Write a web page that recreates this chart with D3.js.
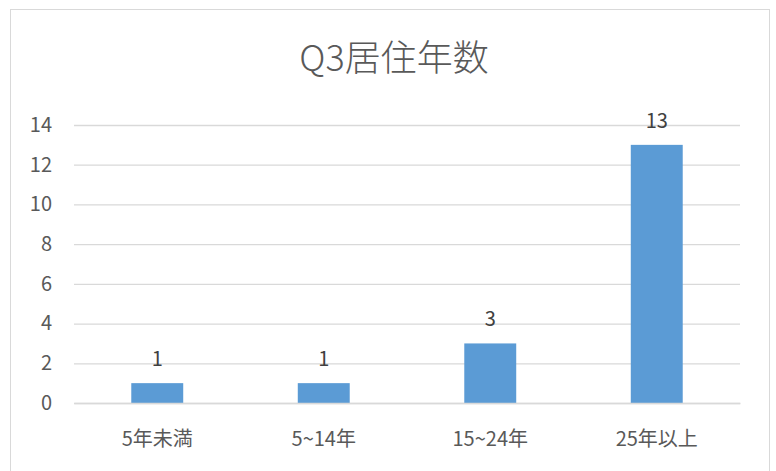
<!DOCTYPE html>
<html><head><meta charset="utf-8">
<script src="https://cdn.jsdelivr.net/npm/d3@7"></script>
<style>
html,body{margin:0;padding:0;background:#fff;}
text{font-family:"Noto Sans CJK JP","Noto Sans",sans-serif;}
</style></head>
<body><svg id="c" width="776" height="471"></svg>
<script>
const title = "Q3居住年数";
const categories = ["5年未満", "5~14年", "15~24年", "25年以上"];
const values = [1, 1, 3, 13];
const yTicks = [0, 2, 4, 6, 8, 10, 12, 14];

const svg = d3.select("#c");
svg.append("rect").attr("x", 10.5).attr("y", 9.5).attr("width", 759).attr("height", 480)
  .attr("fill", "#fff").attr("stroke", "#d9d9d9").attr("stroke-width", 1);

const mLeft = 74, mRight = 740, mTop = 125, mBottom = 403;
const x = d3.scaleBand().domain(categories).range([mLeft, mRight]).paddingInner(0.688).paddingOuter(0.344);
const y = d3.scaleLinear().domain([0, 14]).range([mBottom, mTop]);

svg.append("text").attr("x", 394).attr("y", 71).attr("text-anchor", "middle")
  .attr("font-size", 36).attr("fill", "#595959").attr("font-weight", 300).text(title);

// gridlines
const yAxis = d3.axisLeft(y).tickValues(yTicks).tickSize(-(mRight - mLeft)).tickPadding(22);
const gy = svg.append("g").attr("transform", `translate(${mLeft},0)`).call(yAxis);
gy.select(".domain").remove();
gy.selectAll(".tick line").attr("stroke", "#d9d9d9").attr("stroke-width", 1.3);
gy.selectAll(".tick text").attr("font-size", 20).attr("fill", "#595959");

// bars
svg.selectAll("rect.bar").data(values).enter().append("rect").attr("class", "bar")
  .attr("x", (d, i) => x(categories[i])).attr("width", x.bandwidth())
  .attr("y", d => y(d)).attr("height", d => y(0) - y(d)).attr("fill", "#5b9bd5");

// data labels
svg.selectAll("text.lbl").data(values).enter().append("text").attr("class", "lbl")
  .attr("x", (d, i) => x(categories[i]) + x.bandwidth() / 2).attr("y", d => y(d) - 17)
  .attr("text-anchor", "middle").attr("font-size", 20).attr("fill", "#404040").text(d => d);

// x axis labels
const xAxis = d3.axisBottom(x).tickSize(0).tickPadding(29);
const gx = svg.append("g").attr("transform", `translate(0,${mBottom})`).call(xAxis);
gx.select(".domain").attr("stroke", "#d9d9d9").attr("stroke-width", 1.3);
gx.selectAll(".tick text").attr("font-size", 20).attr("fill", "#595959");
</script></body></html>
